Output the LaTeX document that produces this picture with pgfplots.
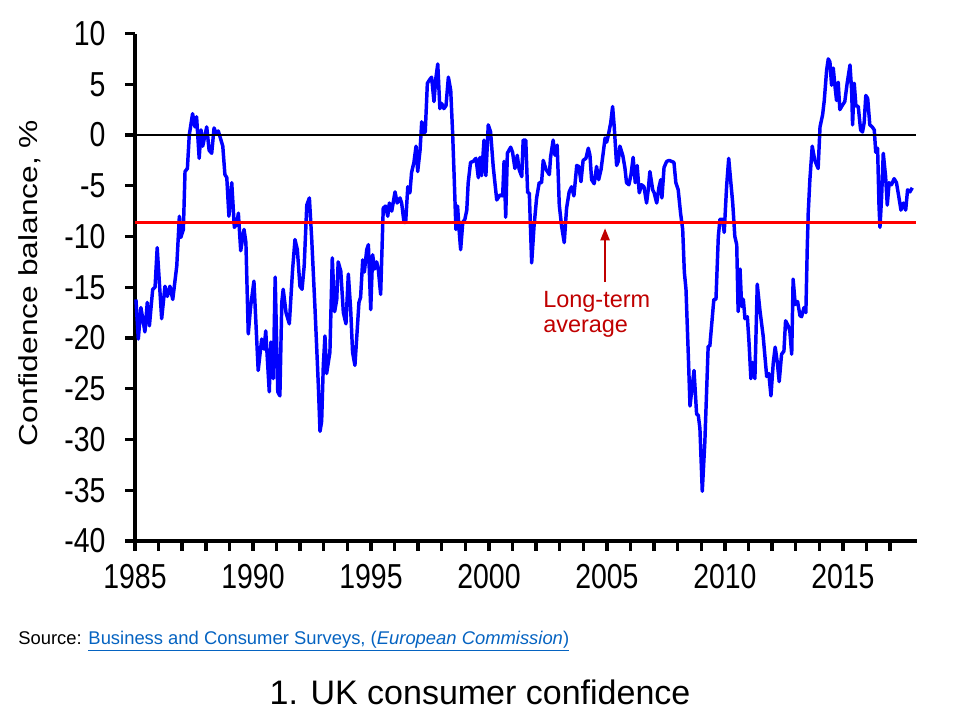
\documentclass[border=0pt]{standalone}
\usepackage{fontspec}
\setmainfont{Liberation Sans}
\newfontfamily\tickfont[FakeStretch=0.82]{Liberation Sans}
\newfontfamily\ylabfont[FakeStretch=1.22]{Liberation Sans}
\usepackage{pgfplots}
\usepackage{pgfplotstable}
\pgfplotsset{compat=1.18}
\usetikzlibrary{arrows.meta}
\definecolor{darkred}{HTML}{C00000}
\definecolor{linkblue}{HTML}{0563C1}
\pgfplotstableread{
year value
1985.04 -16.2
1985.14 -20.1
1985.25 -17.0
1985.42 -19.4
1985.52 -16.5
1985.61 -18.8
1985.75 -15.2
1985.85 -15.0
1985.94 -11.1
1986.13 -18.1
1986.27 -14.9
1986.37 -15.9
1986.48 -14.9
1986.60 -16.2
1986.77 -12.9
1986.88 -8.0
1986.94 -10.1
1987.05 -9.3
1987.12 -3.6
1987.22 -3.3
1987.30 0.0
1987.44 2.1
1987.54 0.8
1987.61 1.8
1987.72 -2.3
1987.80 0.5
1987.87 -1.1
1988.04 0.8
1988.14 -1.5
1988.25 -1.8
1988.35 0.7
1988.43 0.2
1988.53 0.4
1988.72 -1.1
1988.81 -3.9
1988.89 -4.2
1988.98 -8.0
1989.10 -4.7
1989.21 -9.1
1989.31 -8.8
1989.38 -7.7
1989.48 -11.4
1989.62 -9.3
1989.70 -10.6
1989.80 -19.6
1989.90 -16.9
1990.04 -14.4
1990.22 -23.2
1990.37 -20.1
1990.47 -21.1
1990.54 -19.3
1990.69 -25.3
1990.76 -20.4
1990.86 -24.0
1990.94 -14.0
1991.05 -25.3
1991.14 -25.7
1991.22 -16.5
1991.28 -15.2
1991.40 -17.5
1991.54 -18.6
1991.68 -13.2
1991.78 -10.3
1991.88 -11.3
1991.99 -14.9
1992.08 -15.2
1992.17 -12.9
1992.28 -6.9
1992.39 -6.2
1992.49 -10.3
1992.63 -17.2
1992.77 -24.7
1992.84 -29.2
1992.91 -28.2
1992.98 -22.7
1993.05 -19.8
1993.12 -23.5
1993.26 -21.4
1993.36 -12.1
1993.46 -17.4
1993.55 -16.2
1993.61 -12.5
1993.72 -13.4
1993.83 -17.5
1993.94 -18.6
1994.04 -13.7
1994.14 -17.2
1994.22 -21.4
1994.32 -22.7
1994.42 -19.1
1994.49 -16.5
1994.56 -16.0
1994.65 -12.3
1994.72 -13.5
1994.82 -11.3
1994.89 -10.8
1994.99 -17.2
1995.07 -11.8
1995.16 -13.2
1995.24 -12.5
1995.31 -13.2
1995.41 -15.7
1995.52 -7.2
1995.62 -7.0
1995.71 -8.0
1995.78 -6.7
1995.88 -7.5
1996.02 -5.6
1996.11 -6.7
1996.23 -6.2
1996.30 -6.7
1996.40 -8.6
1996.47 -8.6
1996.56 -5.1
1996.65 -5.7
1996.72 -3.7
1996.82 -2.7
1996.91 -1.1
1996.98 -3.6
1997.08 -1.5
1997.15 1.3
1997.22 0.2
1997.30 0.3
1997.39 5.1
1997.50 5.5
1997.57 5.7
1997.67 3.3
1997.75 5.6
1997.83 7.0
1997.92 2.6
1998.00 3.1
1998.09 2.6
1998.18 2.9
1998.28 5.7
1998.38 4.4
1998.46 0.2
1998.53 -4.4
1998.60 -9.3
1998.67 -7.0
1998.74 -9.5
1998.80 -11.3
1998.89 -8.6
1998.98 -8.3
1999.06 -7.4
1999.12 -4.7
1999.22 -2.7
1999.33 -2.6
1999.45 -2.3
1999.55 -4.2
1999.62 -2.2
1999.69 -4.0
1999.79 -0.5
1999.87 -4.0
1999.97 1.0
2000.07 0.3
2000.18 -3.1
2000.33 -6.4
2000.47 -5.9
2000.58 -6.0
2000.64 -2.6
2000.71 -8.1
2000.78 -1.8
2000.92 -1.2
2001.00 -1.7
2001.10 -3.3
2001.20 -2.0
2001.28 -3.4
2001.39 -4.1
2001.45 -0.5
2001.56 -0.5
2001.64 -5.7
2001.71 -5.7
2001.81 -12.6
2001.91 -9.0
2002.02 -6.2
2002.13 -4.7
2002.23 -4.7
2002.30 -2.5
2002.42 -3.4
2002.56 -3.9
2002.61 -2.2
2002.72 -0.5
2002.80 -2.0
2002.89 -1.0
2002.98 -6.9
2003.08 -9.0
2003.19 -10.6
2003.29 -7.2
2003.40 -5.6
2003.50 -5.1
2003.60 -6.0
2003.72 -3.0
2003.81 -3.1
2003.90 -4.6
2003.99 -2.5
2004.11 -2.3
2004.21 -1.3
2004.28 -2.0
2004.35 -4.4
2004.46 -4.8
2004.56 -3.1
2004.65 -4.4
2004.75 -3.4
2004.84 -1.8
2004.92 -0.3
2004.99 -0.7
2005.06 0.0
2005.16 1.2
2005.24 2.8
2005.31 0.8
2005.41 -3.0
2005.48 -2.6
2005.55 -1.1
2005.67 -2.0
2005.76 -3.2
2005.83 -4.7
2005.93 -4.9
2006.02 -3.9
2006.11 -2.2
2006.20 -4.7
2006.28 -3.0
2006.37 -5.7
2006.47 -4.9
2006.57 -5.1
2006.68 -6.7
2006.75 -5.4
2006.82 -3.6
2006.94 -5.4
2007.00 -5.7
2007.11 -6.7
2007.20 -5.2
2007.28 -4.4
2007.33 -6.2
2007.42 -3.2
2007.53 -2.6
2007.64 -2.5
2007.74 -2.6
2007.84 -2.7
2007.92 -4.7
2008.02 -5.4
2008.12 -7.7
2008.21 -9.3
2008.28 -13.5
2008.35 -15.2
2008.45 -21.8
2008.52 -26.7
2008.69 -23.2
2008.80 -27.5
2008.87 -27.6
2008.94 -28.9
2009.04 -35.1
2009.15 -30.2
2009.29 -20.8
2009.36 -20.8
2009.46 -18.1
2009.53 -16.2
2009.62 -16.2
2009.72 -10.0
2009.79 -8.3
2009.90 -8.3
2009.97 -9.6
2010.07 -5.1
2010.16 -2.3
2010.24 -4.4
2010.33 -6.7
2010.42 -10.0
2010.50 -10.8
2010.56 -17.4
2010.64 -13.2
2010.71 -16.9
2010.78 -16.2
2010.85 -18.1
2010.95 -17.9
2011.02 -20.4
2011.10 -24.0
2011.17 -22.4
2011.27 -24.0
2011.37 -14.7
2011.48 -17.2
2011.62 -19.8
2011.77 -23.8
2011.86 -23.5
2011.95 -25.7
2012.05 -22.4
2012.13 -20.9
2012.22 -22.4
2012.30 -24.3
2012.40 -21.6
2012.50 -21.3
2012.57 -18.3
2012.68 -18.8
2012.75 -19.3
2012.83 -21.6
2012.89 -14.2
2012.98 -16.7
2013.08 -16.4
2013.18 -17.8
2013.25 -17.9
2013.35 -17.0
2013.43 -17.5
2013.49 -11.0
2013.53 -7.7
2013.60 -4.4
2013.70 -1.1
2013.81 -2.5
2013.95 -3.3
2014.03 0.8
2014.14 2.0
2014.21 3.4
2014.31 6.4
2014.38 7.5
2014.45 7.2
2014.52 4.9
2014.59 6.6
2014.66 4.9
2014.73 3.4
2014.80 5.2
2014.87 2.5
2014.97 2.9
2015.08 3.3
2015.18 5.1
2015.30 6.9
2015.37 4.4
2015.41 1.0
2015.48 5.1
2015.55 2.9
2015.65 2.8
2015.75 0.5
2015.83 0.3
2015.90 1.2
2015.97 3.9
2016.05 3.6
2016.14 1.0
2016.24 0.8
2016.33 0.5
2016.39 -1.7
2016.47 -1.3
2016.53 -7.0
2016.57 -9.1
2016.64 -6.1
2016.71 -1.8
2016.81 -4.1
2016.88 -6.9
2016.96 -4.7
2017.06 -4.9
2017.17 -4.3
2017.27 -4.7
2017.37 -6.1
2017.46 -7.4
2017.56 -6.7
2017.66 -7.4
2017.74 -5.4
2017.84 -5.6
2017.94 -5.2
}\confdata
\begin{document}
\begin{tikzpicture}[x=1pt,y=1pt]
\path[use as bounding box] (0,0) rectangle (720,540);
\begin{axis}[
  at={(101.25pt,134.25pt)}, anchor=south west,
  scale only axis, width=586.5pt, height=380.6pt,
  xmin=1985, xmax=2018.14, ymin=-40, ymax=10,
  axis lines*=left,
  axis line style={line width=3pt, black},
  xtick={1985,1990,...,2015},
  minor xtick={1986,...,2017},
  ytick={-40,-35,...,10},
  tick align=outside,
  major tick length=7.5pt, minor tick length=7.5pt,
  major tick style={black, line width=2.6pt},
  minor tick style={black, line width=2.6pt},
  tick label style={font=\tickfont\fontsize{26}{26}\selectfont, inner sep=0pt},
  xticklabel style={anchor=north, yshift=-10pt},
  yticklabel style={anchor=east, xshift=-14.5pt},
  /pgf/number format/assume math mode=true,
  /pgf/number format/1000 sep={},
  clip=false,
]
\addplot[blue, line width=2.6pt, line join=round] table[x=year, y=value] {\confdata};
\addplot[red, line width=1.8pt] coordinates {(1985,-8.6) (2018.1,-8.6)};
\addplot[black, line width=1.6pt] coordinates {(1985,0) (2018.1,0)};
\draw[darkred, line width=1.1pt, -{Triangle[length=9pt,width=7pt]}] (axis cs:2004.92,-14.5) -- (axis cs:2004.92,-9.2);
\node[anchor=base west, darkred, align=left, inner sep=0pt, font=\fontsize{17.6}{18.75}\selectfont] at (axis cs:2002.29,-19.5) {Long-term\\average};
\end{axis}
\node[rotate=90, font=\ylabfont\fontsize{19.5}{19.5}\selectfont] at (22.5,327.75) {Confidence balance, \%};
\node[anchor=base west, inner sep=0pt, font=\fontsize{13.8}{14}\selectfont] at (13.5,56.25) {Source: \textcolor{linkblue}{\underline{Business and Consumer Surveys, (\textit{European Commission})}}};
\node[anchor=base, inner sep=0pt, font=\fontsize{25.5}{26}\selectfont] at (360,11.25) {1. UK consumer confidence};
\end{tikzpicture}
\end{document}
